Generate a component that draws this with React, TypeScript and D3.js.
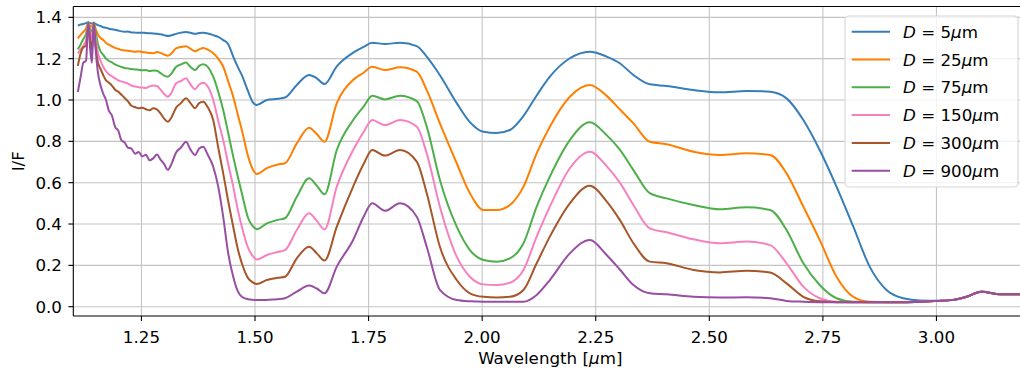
import React from "react";
import * as d3 from "d3";

const wavelengths = [
  1.110, 1.116, 1.122, 1.128, 1.133, 1.137, 1.141, 1.145, 1.149, 1.154,
  1.160, 1.166, 1.172, 1.178, 1.185, 1.192, 1.199, 1.206, 1.213, 1.220,
  1.228, 1.236, 1.244, 1.252, 1.260, 1.268, 1.276, 1.284, 1.292, 1.300,
  1.308, 1.316, 1.326, 1.337, 1.348, 1.358, 1.368, 1.377, 1.386, 1.396,
  1.408, 1.419, 1.430, 1.441, 1.452, 1.462, 1.471, 1.485, 1.495, 1.504,
  1.526, 1.550, 1.566, 1.592, 1.619, 1.636, 1.653, 1.680, 1.716, 1.739,
  1.758, 1.786, 1.819, 1.856, 1.878, 1.907, 1.944, 1.973, 2.003, 2.032,
  2.061, 2.091, 2.120, 2.149, 2.193, 2.237, 2.274, 2.303, 2.333, 2.369,
  2.406, 2.465, 2.523, 2.582, 2.634, 2.670, 2.707, 2.743, 2.780, 2.817,
  2.853, 2.890, 2.927, 2.964, 3.000, 3.037, 3.066, 3.099, 3.140, 3.200,
];

const d5 = [
  1.360, 1.365, 1.368, 1.372, 1.376, 1.372, 1.370, 1.374, 1.368, 1.362,
  1.358, 1.352, 1.350, 1.345, 1.342, 1.340, 1.336, 1.332, 1.330, 1.331,
  1.327, 1.326, 1.325, 1.326, 1.324, 1.323, 1.322, 1.320, 1.318, 1.314,
  1.310, 1.313, 1.320, 1.326, 1.329, 1.325, 1.320, 1.324, 1.325, 1.322,
  1.314, 1.305, 1.290, 1.270, 1.210, 1.160, 1.120, 1.040, 0.990, 0.976,
  1.000, 1.006, 1.012, 1.073, 1.121, 1.105, 1.077, 1.163, 1.229, 1.257,
  1.277, 1.271, 1.277, 1.261, 1.210, 1.120, 0.985, 0.893, 0.846, 0.840,
  0.855, 0.923, 1.022, 1.113, 1.202, 1.234, 1.210, 1.178, 1.121, 1.076,
  1.068, 1.048, 1.037, 1.044, 1.040, 1.008, 0.903, 0.758, 0.581, 0.387,
  0.194, 0.081, 0.041, 0.030, 0.029, 0.033, 0.048, 0.073, 0.060, 0.061,
];

const d25 = [
  1.298, 1.315, 1.330, 1.345, 1.372, 1.360, 1.355, 1.372, 1.345, 1.318,
  1.300, 1.290, 1.276, 1.268, 1.260, 1.252, 1.248, 1.242, 1.240, 1.238,
  1.236, 1.234, 1.236, 1.232, 1.230, 1.228, 1.226, 1.232, 1.228, 1.220,
  1.214, 1.225, 1.250, 1.256, 1.260, 1.248, 1.236, 1.245, 1.252, 1.244,
  1.226, 1.200, 1.161, 1.090, 1.016, 0.930, 0.855, 0.726, 0.665, 0.642,
  0.670, 0.688, 0.694, 0.790, 0.866, 0.835, 0.798, 0.985, 1.097, 1.132,
  1.161, 1.145, 1.158, 1.137, 1.048, 0.887, 0.694, 0.549, 0.468, 0.468,
  0.492, 0.581, 0.742, 0.871, 1.016, 1.073, 1.020, 0.955, 0.887, 0.798,
  0.786, 0.750, 0.734, 0.742, 0.734, 0.645, 0.484, 0.323, 0.145, 0.048,
  0.024, 0.022, 0.022, 0.024, 0.028, 0.033, 0.048, 0.072, 0.060, 0.061,
];

const d75 = [
  1.245, 1.268, 1.295, 1.320, 1.370, 1.345, 1.330, 1.368, 1.330, 1.272,
  1.235, 1.218, 1.200, 1.190, 1.182, 1.172, 1.165, 1.160, 1.155, 1.153,
  1.150, 1.148, 1.146, 1.144, 1.145, 1.140, 1.143, 1.142, 1.130, 1.118,
  1.113, 1.128, 1.160, 1.172, 1.181, 1.160, 1.145, 1.165, 1.173, 1.160,
  1.113, 1.040, 0.952, 0.840, 0.726, 0.630, 0.549, 0.428, 0.390, 0.375,
  0.403, 0.420, 0.428, 0.532, 0.621, 0.585, 0.544, 0.758, 0.903, 0.968,
  1.021, 1.003, 1.021, 0.995, 0.871, 0.613, 0.387, 0.274, 0.226, 0.218,
  0.234, 0.307, 0.484, 0.629, 0.806, 0.892, 0.830, 0.760, 0.661, 0.549,
  0.524, 0.492, 0.471, 0.481, 0.468, 0.371, 0.210, 0.105, 0.041, 0.024,
  0.022, 0.022, 0.022, 0.024, 0.028, 0.033, 0.048, 0.072, 0.060, 0.061,
];

const d150 = [
  1.225, 1.245, 1.262, 1.290, 1.368, 1.330, 1.300, 1.362, 1.300, 1.230,
  1.190, 1.160, 1.140, 1.125, 1.115, 1.105, 1.095, 1.090, 1.085, 1.080,
  1.070, 1.065, 1.062, 1.060, 1.058, 1.066, 1.070, 1.068, 1.050, 1.030,
  1.016, 1.035, 1.080, 1.092, 1.105, 1.075, 1.052, 1.075, 1.084, 1.065,
  1.000, 0.900, 0.806, 0.690, 0.581, 0.470, 0.387, 0.283, 0.245, 0.228,
  0.250, 0.265, 0.274, 0.371, 0.452, 0.415, 0.374, 0.581, 0.758, 0.845,
  0.903, 0.879, 0.903, 0.871, 0.742, 0.484, 0.242, 0.145, 0.108, 0.105,
  0.116, 0.178, 0.339, 0.484, 0.670, 0.750, 0.680, 0.600, 0.492, 0.379,
  0.360, 0.326, 0.307, 0.315, 0.298, 0.210, 0.097, 0.041, 0.024, 0.022,
  0.022, 0.022, 0.022, 0.024, 0.028, 0.033, 0.048, 0.072, 0.060, 0.061,
];

const d300 = [
  1.165, 1.225, 1.255, 1.262, 1.365, 1.300, 1.240, 1.360, 1.260, 1.184,
  1.150, 1.120, 1.095, 1.085, 1.070, 1.050, 1.040, 1.025, 1.010, 0.995,
  0.972, 0.966, 0.960, 0.962, 0.955, 0.950, 0.960, 0.955, 0.935, 0.910,
  0.895, 0.915, 0.962, 0.985, 1.008, 0.985, 0.960, 0.985, 0.992, 0.965,
  0.903, 0.770, 0.645, 0.510, 0.387, 0.280, 0.210, 0.137, 0.118, 0.110,
  0.129, 0.140, 0.145, 0.234, 0.290, 0.258, 0.223, 0.387, 0.581, 0.690,
  0.758, 0.731, 0.758, 0.702, 0.549, 0.290, 0.129, 0.065, 0.048, 0.045,
  0.048, 0.081, 0.210, 0.339, 0.500, 0.585, 0.510, 0.420, 0.307, 0.218,
  0.210, 0.178, 0.166, 0.174, 0.165, 0.113, 0.048, 0.026, 0.022, 0.022,
  0.022, 0.022, 0.022, 0.024, 0.028, 0.033, 0.048, 0.072, 0.060, 0.061,
];

const d900 = [
  1.039, 1.110, 1.180, 1.190, 1.375, 1.250, 1.180, 1.375, 1.250, 1.136,
  1.070, 1.030, 1.000, 0.950, 0.925, 0.870, 0.852, 0.805, 0.795, 0.770,
  0.765, 0.740, 0.748, 0.728, 0.735, 0.708, 0.718, 0.736, 0.712, 0.690,
  0.662, 0.690, 0.745, 0.770, 0.798, 0.760, 0.734, 0.765, 0.774, 0.735,
  0.677, 0.581, 0.435, 0.258, 0.145, 0.075, 0.048, 0.036, 0.033, 0.032,
  0.033, 0.036, 0.041, 0.073, 0.102, 0.088, 0.065, 0.194, 0.323, 0.435,
  0.500, 0.464, 0.500, 0.435, 0.290, 0.081, 0.032, 0.026, 0.024, 0.024,
  0.024, 0.024, 0.057, 0.129, 0.258, 0.323, 0.250, 0.180, 0.105, 0.065,
  0.060, 0.048, 0.044, 0.046, 0.041, 0.028, 0.024, 0.022, 0.022, 0.022,
  0.022, 0.022, 0.022, 0.024, 0.028, 0.033, 0.048, 0.072, 0.060, 0.061,
];

const seriesLabels = ["5", "25", "75", "150", "300", "900"];
const seriesValues = [d5, d25, d75, d150, d300, d900];
const seriesColors = ["#377eb8", "#ff7f00", "#4daf4a", "#f781bf", "#a65628", "#984ea3"];

const xTicks = [1.25, 1.5, 1.75, 2.0, 2.25, 2.5, 2.75, 3.0];
const yTicks = [0, 0.2, 0.4, 0.6, 0.8, 1.0, 1.2, 1.4];

const W = 1020;
const H = 373;
const left = 73.3;
const right = 1027.3;
const top = 6.5;
const bottom = 316;
const FONT = "DejaVu Sans, sans-serif";
const FS = 16.7;

export default function App() {
  const x = d3.scaleLinear().domain([1.1, 3.2]).range([left, right]);
  const y = d3.scaleLinear().domain([-0.045, 1.4524]).range([bottom, top]);
  const line = d3
    .line<number>()
    .x((_, i) => x(wavelengths[i]))
    .y((v) => y(v))
    .curve(d3.curveMonotoneX);

  const legX = 845;
  const legY = 16;
  const legW = 173;
  const legH = 171;
  const rowY = (i: number) => 31.7 + i * 27.8;

  return (
    <svg
      width={W}
      height={H}
      style={{ position: "absolute", left: 0, top: 0, background: "#fff" }}
      fontFamily={FONT}
    >
      <defs>
        <clipPath id="plot">
          <rect x={left} y={top} width={right - left} height={bottom - top} />
        </clipPath>
      </defs>
      <rect x={0} y={0} width={W} height={H} fill="#fff" />
      {/* grid */}
      <g stroke="#c4c4c4" strokeWidth={1.1}>
        {xTicks.map((t) => (
          <line key={"gx" + t} x1={x(t)} x2={x(t)} y1={top} y2={bottom} />
        ))}
        {yTicks.map((t) => (
          <line key={"gy" + t} x1={left} x2={right} y1={y(t)} y2={y(t)} />
        ))}
      </g>
      {/* lines */}
      <g clipPath="url(#plot)" fill="none" strokeWidth={2} strokeLinejoin="round" strokeLinecap="butt">
        {seriesValues.map((vals, i) => (
          <path key={i} d={line(vals) || ""} stroke={seriesColors[i]} />
        ))}
      </g>
      {/* spines */}
      <g stroke="#000" strokeWidth={1.1} fill="none">
        <line x1={left} x2={left} y1={top} y2={bottom} />
        <line x1={left} x2={right} y1={bottom} y2={bottom} />
        <line x1={left} x2={right} y1={top} y2={top} />
        <line x1={right} x2={right} y1={top} y2={bottom} />
      </g>
      {/* ticks */}
      <g stroke="#000" strokeWidth={1.1}>
        {xTicks.map((t) => (
          <line key={"tx" + t} x1={x(t)} x2={x(t)} y1={bottom} y2={bottom + 4.9} />
        ))}
        {yTicks.map((t) => (
          <line key={"ty" + t} x1={left} x2={left - 4.9} y1={y(t)} y2={y(t)} />
        ))}
      </g>
      <g fontSize={FS} fill="#000">
        {xTicks.map((t) => (
          <text key={"lx" + t} x={x(t)} y={342.5} textAnchor="middle">
            {t.toFixed(2)}
          </text>
        ))}
        {yTicks.map((t) => (
          <text key={"ly" + t} x={62} y={y(t)} dy="0.36em" textAnchor="end">
            {t.toFixed(1)}
          </text>
        ))}
        <text x={(left + right) / 2} y={364} textAnchor="middle">
          Wavelength [<tspan fontStyle="italic">μ</tspan>m]
        </text>
        <text
          transform={`translate(24, ${(top + bottom) / 2}) rotate(-90)`}
          textAnchor="middle"
        >
          I/F
        </text>
      </g>
      {/* legend */}
      <rect
        x={legX}
        y={legY}
        width={legW}
        height={legH}
        rx={4}
        ry={4}
        fill="#fff"
        fillOpacity={0.8}
        stroke="#d6d6d6"
        strokeWidth={1.1}
      />
      {seriesLabels.map((lab, i) => (
        <g key={"leg" + i}>
          <line
            x1={851.7}
            x2={890}
            y1={rowY(i)}
            y2={rowY(i)}
            stroke={seriesColors[i]}
            strokeWidth={2}
          />
          <text x={903} y={rowY(i)} dy="0.36em" fontSize={FS} fill="#000">
            <tspan fontStyle="italic">D</tspan>
            {" = " + lab}
            <tspan fontStyle="italic">μ</tspan>m
          </text>
        </g>
      ))}
    </svg>
  );
}
